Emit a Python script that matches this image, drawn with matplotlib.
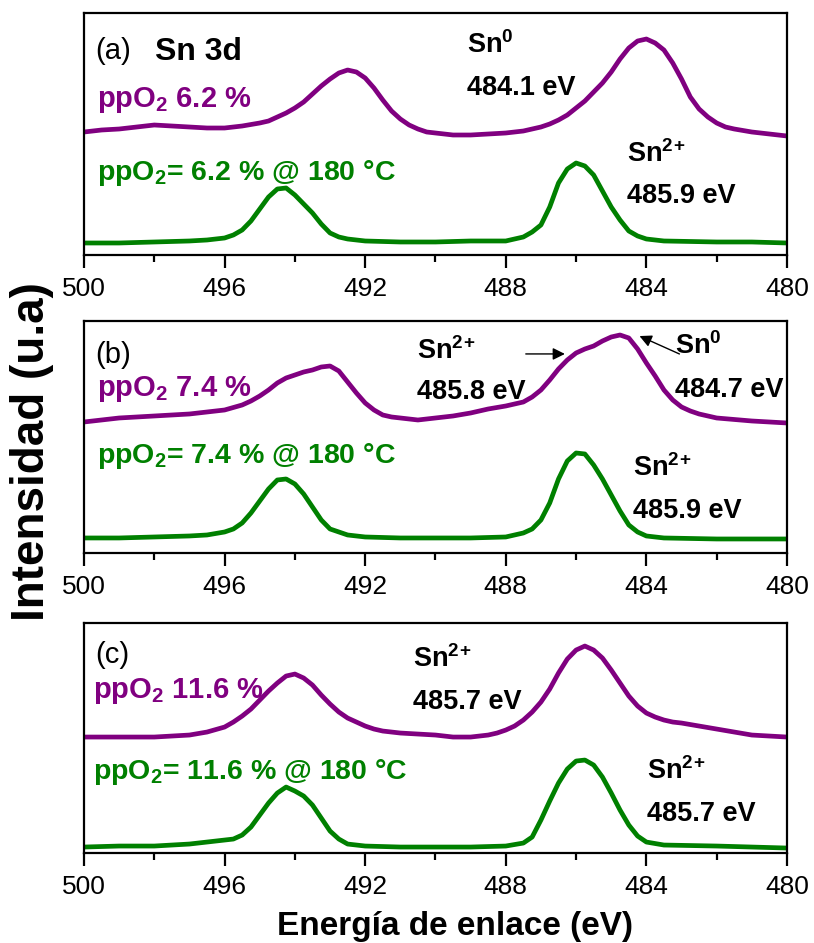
import numpy as np
import matplotlib
matplotlib.use("Agg")
import matplotlib.pyplot as plt
from matplotlib.ticker import MultipleLocator

plt.rcParams['font.family'] = 'Liberation Sans'
plt.rcParams['mathtext.fontset'] = 'custom'
plt.rcParams['mathtext.rm'] = 'Liberation Sans'
plt.rcParams['mathtext.bf'] = 'Liberation Sans:bold'
plt.rcParams['mathtext.default'] = 'bf'

PURPLE = '#800080'
GREEN = '#008000'

########################################################################
### Sn 3d spectra (binding energy in eV, intensity in a.u.)

# (a) ppO2 6.2 %
e_a_as = [500.0, 499.5, 499.0, 498.5, 498.0, 497.5, 497.0, 496.5, 496.0, 495.5, 495.0, 494.75,
          494.5, 494.25, 494.0, 493.75, 493.5, 493.25, 493.0, 492.75, 492.5, 492.25, 492.0, 491.75,
          491.5, 491.25, 491.0, 490.75, 490.5, 490.25, 490.0, 489.5, 489.0, 488.5, 488.0, 487.5,
          487.0, 486.75, 486.5, 486.25, 486.0, 485.75, 485.5, 485.25, 485.0, 484.75, 484.5, 484.25,
          484.0, 483.75, 483.5, 483.25, 483.0, 482.75, 482.5, 482.25, 482.0, 481.75, 481.5, 481.0,
          480.5, 480.0]
i_a_as = [123, 125, 126, 128, 130, 129, 128, 127, 127, 129, 132, 134,
          138, 142, 147, 153, 161, 169, 176, 182, 185, 183, 177, 167,
          155, 144, 136, 130, 126, 123, 122, 120, 120, 121, 122, 124,
          128, 131, 135, 140, 147, 154, 163, 172, 183, 196, 207, 214,
          216, 212, 205, 192, 176, 158, 146, 138, 132, 128, 126, 123,
          121, 119]

e_a_ann = [500.0, 499.0, 498.0, 497.0, 496.5, 496.0, 495.75, 495.5, 495.25, 495.0, 494.75, 494.5,
           494.25, 494.0, 493.75, 493.5, 493.25, 493.0, 492.75, 492.5, 492.0, 491.0, 490.0, 489.0,
           488.0, 487.5, 487.25, 487.0, 486.75, 486.5, 486.25, 486.0, 485.75, 485.5, 485.25, 485.0,
           484.75, 484.5, 484.25, 484.0, 483.5, 482.0, 481.0, 480.0]
i_a_ann = [12, 12, 13, 14, 15, 17, 20, 25, 34, 46, 58, 66,
           67, 60, 51, 42, 31, 22, 18, 16, 14, 13, 13, 14,
           14, 18, 23, 30, 48, 72, 86, 92, 89, 80, 64, 48,
           35, 24, 19, 16, 14, 13, 13, 12]

# (b) ppO2 7.4 %
e_b_as = [500.0, 499.0, 498.0, 497.0, 496.5, 496.0, 495.5, 495.25, 495.0, 494.75, 494.5, 494.25,
          494.0, 493.75, 493.5, 493.25, 493.0, 492.75, 492.5, 492.25, 492.0, 491.75, 491.5, 491.25,
          491.0, 490.75, 490.5, 490.0, 489.5, 489.0, 488.5, 488.0, 487.5, 487.25, 487.0, 486.75,
          486.5, 486.25, 486.0, 485.75, 485.5, 485.25, 485.0, 484.75, 484.5, 484.25, 484.0, 483.75,
          483.5, 483.25, 483.0, 482.75, 482.5, 482.0, 481.0, 480.0]
i_b_as = [131, 135, 137, 139, 141, 143, 148, 152, 157, 163, 170, 175,
          178, 181, 183, 186, 187, 182, 171, 160, 150, 143, 138, 136,
          135, 134, 133, 135, 137, 140, 144, 147, 151, 156, 163, 173,
          184, 193, 200, 204, 207, 212, 216, 218, 215, 204, 190, 177,
          163, 153, 146, 142, 139, 135, 132, 130]

e_b_ann = [500.0, 499.0, 498.0, 497.0, 496.5, 496.0, 495.75, 495.5, 495.25, 495.0, 494.75, 494.5,
           494.25, 494.0, 493.75, 493.5, 493.25, 493.0, 492.5, 492.0, 491.0, 490.0, 489.0, 488.0,
           487.5, 487.25, 487.0, 486.75, 486.5, 486.25, 486.0, 485.75, 485.5, 485.25, 485.0, 484.75,
           484.5, 484.25, 484.0, 483.5, 482.0, 481.0, 480.0]
i_b_ann = [15, 15, 16, 17, 18, 21, 24, 30, 40, 52, 64, 73,
           74, 69, 59, 46, 33, 24, 18, 16, 15, 15, 15, 16,
           20, 24, 33, 50, 74, 92, 100, 99, 88, 74, 58, 42,
           28, 21, 17, 15, 14, 14, 14]

# (c) ppO2 11.6 %
e_c_as = [500.0, 499.0, 498.0, 497.0, 496.5, 496.0, 495.75, 495.5, 495.25, 495.0, 494.75, 494.5,
          494.25, 494.0, 493.75, 493.5, 493.25, 493.0, 492.75, 492.5, 492.25, 492.0, 491.75, 491.5,
          491.0, 490.5, 490.0, 489.5, 489.0, 488.5, 488.25, 488.0, 487.75, 487.5, 487.25, 487.0,
          486.75, 486.5, 486.25, 486.0, 485.75, 485.5, 485.25, 485.0, 484.75, 484.5, 484.25, 484.0,
          483.75, 483.5, 483.25, 483.0, 482.5, 482.0, 481.5, 481.0, 480.0]
i_c_as = [116, 116, 116, 118, 121, 126, 131, 137, 144, 153, 162, 170,
          177, 179, 175, 168, 158, 149, 141, 135, 131, 127, 124, 122,
          120, 119, 118, 116, 116, 118, 120, 123, 127, 133, 141, 151,
          164, 180, 194, 203, 207, 203, 195, 183, 170, 157, 147, 140,
          136, 133, 131, 130, 127, 124, 121, 118, 116]

e_c_ann = [500.0, 499.0, 498.0, 497.0, 496.5, 496.0, 495.75, 495.5, 495.25, 495.0, 494.75, 494.5,
           494.25, 494.0, 493.75, 493.5, 493.25, 493.0, 492.75, 492.5, 492.0, 491.0, 490.0, 489.0,
           488.0, 487.5, 487.25, 487.0, 486.75, 486.5, 486.25, 486.0, 485.75, 485.5, 485.25, 485.0,
           484.75, 484.5, 484.25, 484.0, 483.5, 482.0, 481.0, 480.0]
i_c_ann = [6, 7, 7, 9, 11, 13, 14, 18, 26, 38, 50, 60,
           66, 62, 57, 48, 35, 22, 14, 9, 7, 6, 6, 6,
           7, 10, 16, 33, 52, 70, 84, 92, 93, 88, 76, 60,
           43, 28, 17, 11, 8, 7, 6, 5]

xticks = [500, 496, 492, 488, 484, 480]
ylims = [242, 232, 230]

panel_tags = ['(a)', '(b)', '(c)']
as_labels = [r'ppO$_2$ 6.2 %', r'ppO$_2$ 7.4 %', r'ppO$_2$ 11.6 %']
ann_labels = [r'ppO$_2$= 6.2 % @ 180 °C', r'ppO$_2$= 7.4 % @ 180 °C', r'ppO$_2$= 11.6 % @ 180 °C']

spectra = [(e_a_as, i_a_as, e_a_ann, i_a_ann),
           (e_b_as, i_b_as, e_b_ann, i_b_ann),
           (e_c_as, i_c_as, e_c_ann, i_c_ann)]

SN0 = r'Sn$^0$'
SN2 = r'Sn$^{2\!+}$'

########################################################################
### Figure

fig = plt.figure(figsize=(8.14, 9.43), dpi=100)
rects = [[0.1032, 0.7296, 0.8636, 0.2566],
         [0.1032, 0.4136, 0.8636, 0.2460],
         [0.1032, 0.0954, 0.8636, 0.2439]]
axes = [fig.add_axes(r) for r in rects]

for k, ax in enumerate(axes):
    e1, i1, e2, i2 = spectra[k]
    ax.plot(e1, i1, color=PURPLE, lw=3.4, solid_joinstyle='round', solid_capstyle='round')
    ax.plot(e2, i2, color=GREEN, lw=3.4, solid_joinstyle='round', solid_capstyle='round')
    ax.set_xlim(500, 480)
    ax.set_ylim(0, ylims[k])
    ax.set_xticks(xticks)
    ax.xaxis.set_minor_locator(MultipleLocator(2))
    ax.set_yticks([])
    ax.tick_params(axis='x', which='major', direction='out', length=9.5, width=1.6,
                   labelsize=19, pad=6.5, top=False)
    ax.tick_params(axis='x', which='minor', direction='out', length=5, width=1.6, top=False)
    for sp in ax.spines.values():
        sp.set_linewidth(1.6)

    ax.text(0.016, [0.81, 0.82, 0.826][k], panel_tags[k], transform=ax.transAxes,
            fontsize=21, va='baseline')
    ax.text(0.0185 if k < 2 else 0.0128, [0.612, 0.677, 0.674][k], as_labels[k],
            transform=ax.transAxes, fontsize=21, fontweight='bold', color=PURPLE, va='baseline')
    ax.text(0.0185 if k < 2 else 0.0128, [0.31, 0.388, 0.322][k], ann_labels[k],
            transform=ax.transAxes, fontsize=20.5, fontweight='bold', color=GREEN, va='baseline')

def peak_label(ax, x, y1, y2, state, energy):
    ax.text(x, y1, state, transform=ax.transAxes, fontsize=19.5, fontweight='bold', va='baseline')
    ax.text(x, y2, energy, transform=ax.transAxes, fontsize=19.5, fontweight='bold', va='baseline')

ax = axes[0]
ax.text(0.101, 0.806, 'Sn 3d', transform=ax.transAxes, fontsize=23, fontweight='bold', va='baseline')
peak_label(ax, 0.545, 0.835, 0.663, SN0, '484.1 eV')
peak_label(ax, 0.772, 0.384, 0.215, SN2, '485.9 eV')

ax = axes[1]
peak_label(ax, 0.474, 0.836, 0.664, SN2, '485.8 eV')
peak_label(ax, 0.841, 0.858, 0.672, SN0, '484.7 eV')
peak_label(ax, 0.781, 0.332, 0.151, SN2, '485.9 eV')
ax.annotate('', xy=(0.688, 0.858), xytext=(0.6245, 0.858), xycoords='axes fraction',
            arrowprops=dict(arrowstyle='-|>', color='black', lw=1, mutation_scale=18))
ax.annotate('', xy=(0.7866, 0.94), xytext=(0.8506, 0.853), xycoords='axes fraction',
            arrowprops=dict(arrowstyle='-|>', color='black', lw=1, mutation_scale=18))

ax = axes[2]
peak_label(ax, 0.468, 0.809, 0.626, SN2, '485.7 eV')
peak_label(ax, 0.801, 0.322, 0.14, SN2, '485.7 eV')

fig.text(455 / 814, 0.0085, 'Energía de enlace (eV)', fontsize=24, fontweight='bold',
         ha='center', va='baseline')
fig.text(32 / 814, 1 - 452 / 943, 'Intensidad (u.a)', fontsize=33, fontweight='bold',
         ha='center', va='center', rotation=90)

fig.savefig('out.png', dpi=100)
